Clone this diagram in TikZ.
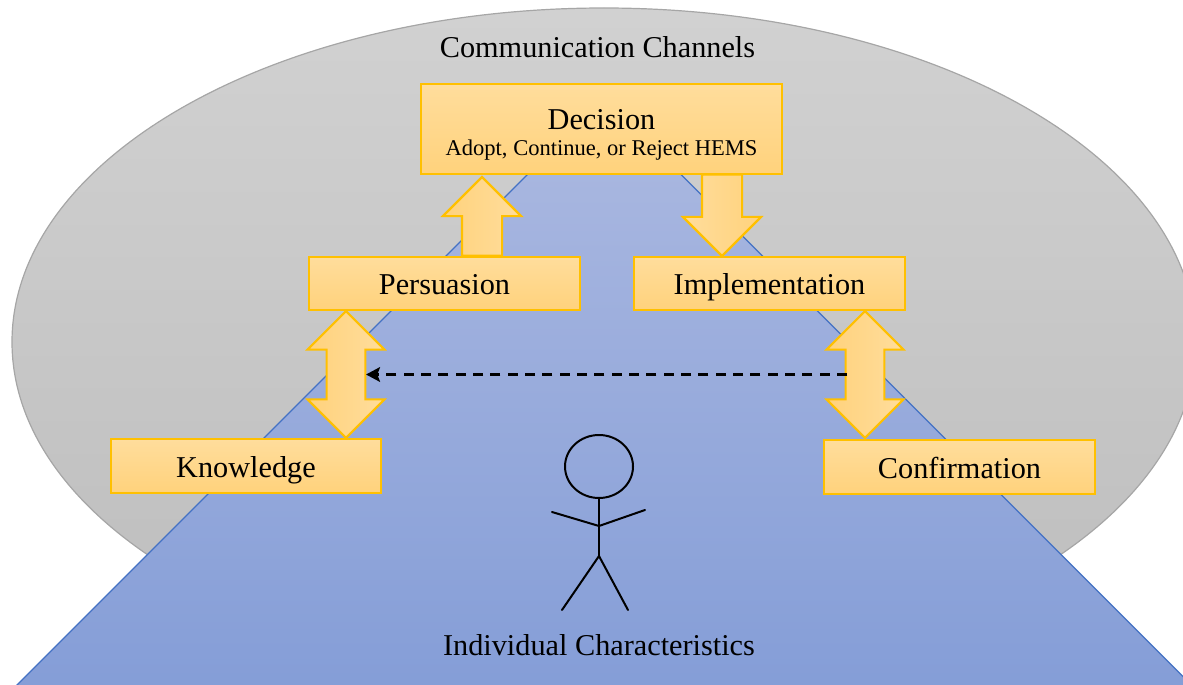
\documentclass[tikz,border=0pt]{standalone}
\usepackage{fontspec}
\setmainfont{Liberation Serif}
\usetikzlibrary{shapes.arrows,shapes.geometric,calc,arrows.meta}
\definecolor{boxline}{HTML}{FFC000}
\definecolor{boxtop}{HTML}{FFDD9C}
\definecolor{boxbot}{HTML}{FFD27C}
\definecolor{bluetop}{HTML}{A9B7E0}
\definecolor{bluebot}{HTML}{849DD7}
\definecolor{blueline}{HTML}{4472C4}
\tikzset{
  stagebox/.style={draw=boxline,line width=1.6pt,top color=boxtop,bottom color=boxbot,minimum height=40pt,inner sep=0pt,font=\fontsize{22.7}{26}\selectfont,text=black,text height=18pt,text depth=1.5pt},
  decisionbox/.style={draw=boxline,line width=1.6pt,top color=boxtop,bottom color=boxbot,inner sep=0pt,text=black,minimum width=271pt,minimum height=67.5pt,align=center},
  uparrow/.style={shape=single arrow,draw=boxline,line width=1.6pt,left color=boxbot,right color=boxtop,inner sep=0pt,outer sep=0pt,text height=28.5pt,text depth=0pt,text width=0pt,single arrow head extend=14.25pt,single arrow head indent=0pt,single arrow tip angle=90,minimum height=59pt},
  bothways/.style={shape=double arrow,draw=boxline,line width=1.6pt,left color=boxbot,right color=boxtop,rotate=90,inner sep=0pt,outer sep=0pt,text height=27.5pt,text depth=0pt,text width=0pt,double arrow head extend=14.25pt,double arrow head indent=0pt,double arrow tip angle=90,minimum height=95pt},
  caption/.style={font=\fontsize{22.7}{26}\selectfont,text=black,inner sep=0pt},
  stick/.style={draw=black,line width=1.5pt,line cap=round,line join=round}
}
\begin{document}
\begin{tikzpicture}[x=0.75pt,y=-0.75pt]
\useasboundingbox (0,0) rectangle (1183,685);
\clip (0,0) rectangle (1183,685);
% channels ellipse
\path[draw=black!35,line width=0.9pt,top color=black!18,bottom color=black!26] (604,342) ellipse [x radius=592,y radius=334];
% characteristics trapezoid
\path[draw=blueline,line width=1pt,top color=bluetop,bottom color=bluebot] (7,695) -- (552,150) -- (656.5,150) -- (1201.5,695) -- cycle;
% nodes
\node[decisionbox] (decision) at (601.5,129)
  {\rule{0pt}{24pt}{\fontsize{22.7}{26}\selectfont Decision}\\[7.5pt]{\fontsize{16.9}{19.5}\selectfont Adopt, Continue, or Reject HEMS}};
\node[stagebox,minimum width=203pt] (persuasion) at (444.5,283.5) {Persuasion};
\node[stagebox,minimum width=203pt] (implementation) at (769.5,283.5) {Implementation};
\node[stagebox,minimum width=203pt] (knowledge) at (246,466) {Knowledge};
\node[stagebox,minimum width=203pt] (confirmation) at (959.5,467) {Confirmation};
\node[uparrow,rotate=90,anchor=tip] (up) at (482,177) {};
\node[uparrow,rotate=-90,left color=boxtop,right color=boxbot,minimum height=61pt,anchor=tip] (down) at (722,256) {};
\node[bothways,anchor=center] (leftboth) at (346,374.5) {};
\node[bothways,anchor=center] (rightboth) at (865,374.5) {};
\draw[black,line width=1.9pt,dash pattern=on 7.5pt off 5.5pt,-{Stealth[length=10.5pt,width=11pt,inset=2pt]}] ($(rightboth.center)+(-18,0)$) -- ($(leftboth.center)+(20,0)$);
% stick figure
\node[draw=black,line width=1.5pt,ellipse,minimum width=51pt,minimum height=47.25pt,inner sep=0pt] (head) at (599,466.5) {};
\coordinate (hip) at (599,556);
\coordinate (neck) at (599,526);
\draw[stick] (head.south) -- (hip);
\coordinate (handL) at (552,512);
\coordinate (handR) at (645,510);
\coordinate (footL) at (562,610);
\coordinate (footR) at (628,610);
\draw[stick] (handL) -- (neck) -- (handR);
\draw[stick] (footL) -- (hip) -- (footR);
% captions
\node[caption] (channels) at (597.5,47) {Communication Channels};
\node[caption] (individual) at (599,645) {Individual Characteristics};
\end{tikzpicture}
\end{document}
